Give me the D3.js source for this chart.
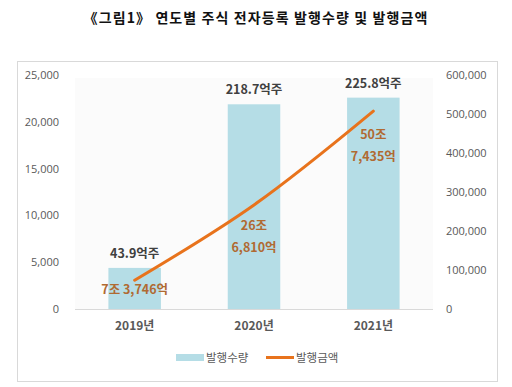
<!DOCTYPE html>
<html>
<head>
<meta charset="utf-8">
<script src="https://cdn.jsdelivr.net/npm/d3@7"></script>
<style>
  body { margin: 0; background: #fff; }
  text { font-family: "Noto Sans CJK KR", "Noto Sans", sans-serif; }
</style>
</head>
<body>
<div id="chart"></div>
<script>
var width = 512;
var height = 387;

// data
var years = ["2019년", "2020년", "2021년"];
var volume = [4390, 21870, 22580];          // 발행수량 (백만주)
var amount = [73746, 266810, 507435];       // 발행금액 (억원)
var volumeLabels = ["43.9억주", "218.7억주", "225.8억주"];
var amountLabels = [["7조 3,746억"], ["26조", "6,810억"], ["50조", "7,435억"]];
var leftTicks = [0, 5000, 10000, 15000, 20000, 25000];
var rightTicks = [0, 100000, 200000, 300000, 400000, 500000, 600000];

var barColor = "#b5dde6";
var lineColor = "#e8731c";
var amountColor = "#b06a32";

var plot = {left: 75, right: 433, top: 78, bottom: 309};

var svg = d3.select("#chart").append("svg")
  .attr("width", width)
  .attr("height", height);

// title
svg.append("text")
  .attr("x", 256).attr("y", 23)
  .attr("text-anchor", "middle")
  .attr("font-size", 14)
  .attr("font-weight", "bold")
  .attr("letter-spacing", 1.1)
  .attr("fill", "#111")
  .text("《그림1》 연도별 주식 전자등록 발행수량 및 발행금액");

// frame
svg.append("rect")
  .attr("x", 17.5).attr("y", 61.5)
  .attr("width", 480).attr("height", 320)
  .attr("fill", "none")
  .attr("stroke", "#d9d9d9");

// plot background
svg.append("rect")
  .attr("x", plot.left).attr("y", plot.top)
  .attr("width", plot.right - plot.left).attr("height", plot.bottom - plot.top)
  .attr("fill", "#fbfbfb");

var x = d3.scaleBand().domain(years).range([plot.left, plot.right]).paddingInner(0.56).paddingOuter(0.28);
var yL = d3.scaleLinear().domain([0, 25000]).range([plot.bottom, 75]);
var yR = d3.scaleLinear().domain([0, 600000]).range([plot.bottom, 75]);

// left axis
var leftAxis = svg.append("g")
  .attr("transform", "translate(" + (plot.left - 13) + ",0)")
  .call(d3.axisLeft(yL).tickValues(leftTicks).tickSize(0).tickFormat(d3.format(",")));
leftAxis.select(".domain").remove();
leftAxis.selectAll("text").attr("font-size", 11).attr("fill", "#595959")
  .style("font-family", "'Open Sans', sans-serif");

// right axis
var rightAxis = svg.append("g")
  .attr("transform", "translate(" + (plot.right + 10) + ",0)")
  .call(d3.axisRight(yR).tickValues(rightTicks).tickSize(0).tickFormat(d3.format(",")));
rightAxis.select(".domain").remove();
rightAxis.selectAll("text").attr("font-size", 11).attr("fill", "#595959")
  .style("font-family", "'Open Sans', sans-serif");

// bars
svg.selectAll(".bar").data(volume).enter().append("rect")
  .attr("class", "bar")
  .attr("x", function(d, i) { return x(years[i]); })
  .attr("y", function(d) { return yL(d); })
  .attr("width", x.bandwidth())
  .attr("height", function(d) { return yL(0) - yL(d); })
  .attr("fill", barColor);

// baseline
svg.append("line")
  .attr("x1", plot.left).attr("x2", plot.right)
  .attr("y1", plot.bottom + 0.5).attr("y2", plot.bottom + 0.5)
  .attr("stroke", "#d9d9d9");

// x labels
svg.selectAll(".xlab").data(years).enter().append("text")
  .attr("x", function(d) { return x(d) + x.bandwidth() / 2; })
  .attr("y", 330)
  .attr("text-anchor", "middle")
  .attr("font-size", 12)
  .attr("font-weight", "bold")
  .attr("fill", "#595959")
  .text(function(d) { return d; });

// line
var line = d3.line()
  .x(function(d, i) { return x(years[i]) + x.bandwidth() / 2; })
  .y(function(d) { return yR(d); })
  .curve(d3.curveCatmullRom.alpha(0.5));
svg.append("path")
  .datum(amount)
  .attr("d", line)
  .attr("fill", "none")
  .attr("stroke", lineColor)
  .attr("stroke-width", 3)
  .attr("stroke-linecap", "round");

// volume labels
svg.selectAll(".vlab").data(volumeLabels).enter().append("text")
  .attr("x", function(d, i) { return x(years[i]) + x.bandwidth() / 2; })
  .attr("y", function(d, i) { return yL(volume[i]) - 10; })
  .attr("text-anchor", "middle")
  .attr("font-size", 12.5)
  .attr("font-weight", "bold")
  .attr("fill", "#404040")
  .text(function(d) { return d; });

// amount labels
var amountOffsets = [14, 25, 28];
amountLabels.forEach(function(lines, i) {
  var cx = x(years[i]) + x.bandwidth() / 2;
  var y0 = yR(amount[i]) + amountOffsets[i];
  lines.forEach(function(t, j) {
    svg.append("text")
      .attr("x", cx)
      .attr("y", y0 + j * 22)
      .attr("text-anchor", "middle")
      .attr("font-size", 12.5)
      .attr("font-weight", "bold")
      .attr("fill", amountColor)
      .text(t);
  });
});

// legend
var legend = svg.append("g");
legend.append("rect")
  .attr("x", 176).attr("y", 354).attr("width", 28).attr("height", 7)
  .attr("fill", barColor);
legend.append("text")
  .attr("x", 206).attr("y", 362)
  .attr("font-size", 11.5).attr("fill", "#595959")
  .text("발행수량");
legend.append("line")
  .attr("x1", 266).attr("x2", 294).attr("y1", 357.5).attr("y2", 357.5)
  .attr("stroke", lineColor).attr("stroke-width", 3);
legend.append("text")
  .attr("x", 296).attr("y", 362)
  .attr("font-size", 11.5).attr("fill", "#595959")
  .text("발행금액");
</script>
</body>
</html>
